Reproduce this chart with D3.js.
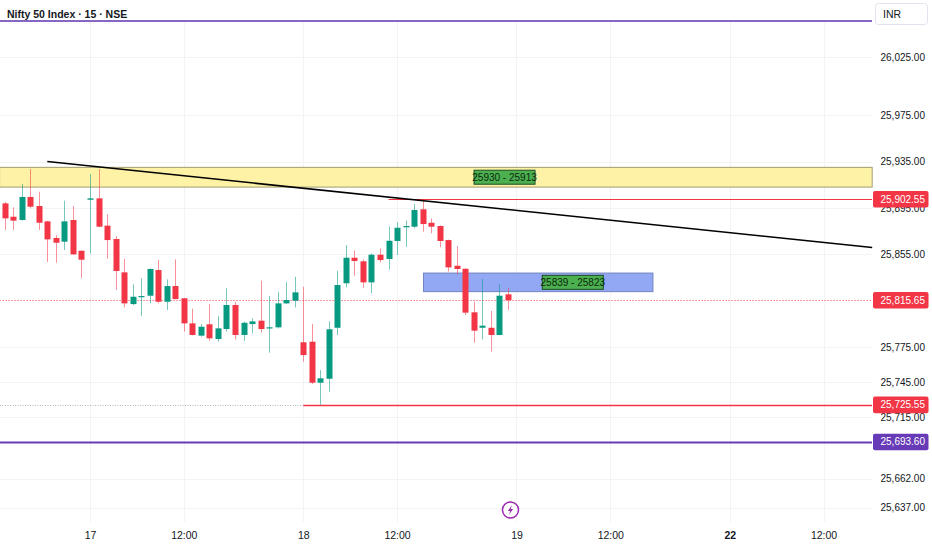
<!DOCTYPE html>
<html>
<head>
<meta charset="utf-8">
<script src="https://cdn.jsdelivr.net/npm/d3@7"></script>
<style>
  body { margin: 0; background: #ffffff; }
  svg { display: block; }
  text { font-family: "Liberation Sans", Arial, sans-serif; fill: #131722; }
</style>
</head>
<body>
<div id="chart"></div>
<script>
// 15 minute bars, first one is 10 bars before the open of the 17th
const firstBar = -10;
const open  = [25899.0, 25887.5, 25884.7, 25904.5, 25896.7, 25883.5, 25869.2, 25866.0, 25884.7, 25858.2,
               25902.1, 25903.3, 25879.8, 25868.3, 25839.6, 25812.3, 25818.6, 25819.5, 25841.6, 25814.3,
               25827.8, 25817.3, 25795.7, 25785.1, 25794.9, 25782.2, 25790.8, 25811.5, 25785.7, 25795.1,
               25798.0, 25791.4, 25792.3, 25812.9, 25815.2,
               25779.4, 25779.9, 25744.6, 25748.0, 25791.9, 25830.2, 25852.2, 25849.1, 25831.0, 25854.8,
               25851.1, 25866.6, 25878.4, 25878.9, 25893.9, 25882.3, 25879.5, 25867.4, 25845.3, 25842.7,
               25805.2, 25791.9, 25791.9, 25785.7, 25820.7];
const high  = [25900.2, 25895.6, 25915.7, 25928.6, 25909.0, 25884.0, 25871.7, 25901.3, 25896.7, 25858.5,
               25924.3, 25928.6, 25889.6, 25870.9, 25851.3, 25829.3, 25834.5, 25843.0, 25850.2, 25833.6,
               25850.8, 25817.6, 25808.3, 25795.1, 25812.3, 25802.0, 25825.9, 25814.3, 25797.1, 25800.0,
               25832.4, 25819.2, 25822.9, 25831.5, 25835.8,
               25827.2, 25795.1, 25755.5, 25797.4, 25841.0, 25863.1, 25858.2, 25850.8, 25856.0, 25860.3,
               25878.9, 25882.7, 25884.1, 25898.4, 25902.55, 25886.1, 25880.0, 25867.8, 25862.3, 25843.0,
               25814.3, 25833.9, 25806.3, 25829.3, 25826.4];
const low   = [25876.1, 25876.1, 25884.2, 25894.7, 25876.1, 25848.5, 25847.9, 25858.8, 25854.8, 25834.5,
               25856.0, 25878.4, 25851.3, 25824.4, 25809.5, 25811.5, 25802.0, 25812.9, 25812.9, 25807.2,
               25816.4, 25788.5, 25785.4, 25784.2, 25780.7, 25779.9, 25788.5, 25781.9, 25780.7, 25787.1,
               25787.6, 25770.4, 25791.4, 25812.3, 25809.5,
               25762.7, 25743.5, 25725.55, 25736.8, 25785.7, 25826.7, 25836.7, 25826.4, 25821.6, 25848.2,
               25842.2, 25854.5, 25861.7, 25877.5, 25874.6, 25873.2, 25861.2, 25840.2, 25837.9, 25802.9,
               25779.0, 25781.9, 25771.3, 25785.4, 25807.2];
const close = [25886.1, 25884.1, 25904.5, 25896.1, 25882.3, 25868.0, 25865.1, 25883.5, 25855.1, 25850.5,
               25903.3, 25878.9, 25867.4, 25840.8, 25812.9, 25818.6, 25819.2, 25842.5, 25814.3, 25827.8,
               25816.6, 25795.7, 25785.7, 25792.8, 25782.8, 25791.4, 25811.5, 25785.7, 25796.2, 25797.4,
               25790.8, 25792.3, 25812.9, 25815.8, 25822.4,
               25768.4, 25744.6, 25748.4, 25790.6, 25828.7, 25852.2, 25849.4, 25831.0, 25854.8, 25850.2,
               25866.8, 25878.0, 25879.5, 25893.3, 25881.2, 25878.9, 25866.6, 25843.9, 25842.5, 25804.9,
               25789.4, 25793.7, 25785.7, 25819.5, 25815.65];

const yTicks = [26025, 25975, 25935, 25895, 25855, 25775, 25745, 25715, 25662, 25637];
const xTickBars = [0, 11, 25, 36, 50, 61, 75, 86];
const xTickLabels = ["17", "12:00", "18", "12:00", "19", "12:00", "22", "12:00"];

// drawn zones (price band between two bars)
const zoneTop = [25930, 25839];
const zoneBottom = [25913, 25823];
const zoneFrom = [-10.6, 39.1];
const zoneTo = [91.7, 66];
const zoneText = ["25930 - 25913", "25839 - 25823"];

// trend line anchors
const trendBars = [-5, 91.7];
const trendPrices = [25935, 25861];

// horizontal levels
const levelPrice = [25902.55, 25725.55, 25693.60, 25815.65];
const levelFrom = [35, 25, -10.6, -10.6];
const levelText = ["25,902.55", "25,725.55", "25,693.60", "25,815.65"];

const width = 932, height = 550, plotRight = 872;
const green = "#089981", red = "#f23645", purple = "#673ab7";

const svg = d3.select("#chart").append("svg")
    .attr("width", width)
    .attr("height", height);

const x = d3.scaleLinear().domain([-10.55, 91.68]).range([0, plotRight]);
const y = d3.scaleLinear().domain([25637, 26025]).range([507.7, 57]);

// grid
const grid = svg.append("g");
grid.selectAll("line.h")
    .data(yTicks)
    .enter()
    .append("line")
    .attr("x1", 0).attr("x2", plotRight)
    .attr("y1", d => Math.round(y(d)) + 0.5)
    .attr("y2", d => Math.round(y(d)) + 0.5)
    .attr("stroke", "#f2f3f5");
grid.selectAll("line.v")
    .data(xTickBars)
    .enter()
    .append("line")
    .attr("x1", d => Math.round(x(d)) + 0.5)
    .attr("x2", d => Math.round(x(d)) + 0.5)
    .attr("y1", 22).attr("y2", 522)
    .attr("stroke", "#f2f3f5");

// zones
const zoneFill = ["#fdf2a6", "#93a8f4"];
const zoneStroke = ["#a39c74", "#7584bf"];
svg.append("g").selectAll("rect")
    .data(zoneTop)
    .enter()
    .append("rect")
    .attr("x", (d, i) => x(zoneFrom[i]))
    .attr("width", (d, i) => x(zoneTo[i]) - x(zoneFrom[i]))
    .attr("y", d => y(d))
    .attr("height", (d, i) => y(zoneBottom[i]) - y(d))
    .attr("fill", (d, i) => zoneFill[i])
    .attr("stroke", (d, i) => zoneStroke[i]);

// levels (lines)
const levelColor = [red, red, purple, red];
svg.append("g").selectAll("line")
    .data(levelPrice)
    .enter()
    .append("line")
    .attr("x1", (d, i) => x(levelFrom[i]))
    .attr("x2", plotRight)
    .attr("y1", d => Math.round(y(d)) + 0.5)
    .attr("y2", d => Math.round(y(d)) + 0.5)
    .attr("stroke", (d, i) => levelColor[i])
    .attr("stroke-width", (d, i) => i == 2 ? 2 : (i == 1 ? 1.5 : 1))
    .attr("stroke-dasharray", (d, i) => i == 3 ? "1,2" : null);

// dotted extension left of the low level
svg.append("line")
    .attr("x1", 0).attr("x2", x(levelFrom[1]))
    .attr("y1", Math.round(y(levelPrice[1])) + 0.5)
    .attr("y2", Math.round(y(levelPrice[1])) + 0.5)
    .attr("stroke", "#b2b5be")
    .attr("stroke-dasharray", "1,1.5");

// top purple line under the header
svg.append("line")
    .attr("x1", 0).attr("x2", plotRight)
    .attr("y1", 21).attr("y2", 21)
    .attr("stroke", "#5e35b1")
    .attr("stroke-width", 1.5);

// candles
const bars = d3.range(open.length);
const g_candles = svg.append("g");
g_candles.selectAll("line")
    .data(bars)
    .enter()
    .append("line")
    .attr("x1", i => Math.round(x(i + firstBar)) + 0.5)
    .attr("x2", i => Math.round(x(i + firstBar)) + 0.5)
    .attr("y1", i => y(high[i]))
    .attr("y2", i => y(low[i]))
    .attr("stroke", i => close[i] >= open[i] ? green : red)
    .attr("stroke-opacity", 0.55);
g_candles.selectAll("rect")
    .data(bars)
    .enter()
    .append("rect")
    .attr("x", i => Math.round(x(i + firstBar)) - 2.5)
    .attr("width", 6)
    .attr("y", i => y(Math.max(open[i], close[i])))
    .attr("height", i => Math.max(1.2, Math.abs(y(open[i]) - y(close[i]))))
    .attr("fill", i => close[i] >= open[i] ? green : red);

// trend line
svg.append("line")
    .attr("x1", x(trendBars[0])).attr("y1", y(trendPrices[0]))
    .attr("x2", x(trendBars[1])).attr("y2", y(trendPrices[1]))
    .attr("stroke", "#000000")
    .attr("stroke-width", 1.6);

// zone labels
const zoneLabelBar = [48.6, 56.6];
const zl = svg.append("g").selectAll("g")
    .data(zoneText)
    .enter()
    .append("g")
    .attr("transform", (d, i) => `translate(${x(zoneLabelBar[i])},${(y(zoneTop[i]) + y(zoneBottom[i])) / 2})`);
zl.append("rect")
    .attr("x", -30.5).attr("y", -7)
    .attr("width", 61).attr("height", 14)
    .attr("fill", "#4caf50")
    .attr("stroke", "#1e4d20");
zl.append("text")
    .attr("text-anchor", "middle")
    .attr("dy", "0.35em")
    .style("font-size", "10px")
    .style("fill", "#0b2a0c")
    .text(d => d);

// right price axis
const yAxis = d3.axisRight(y)
    .tickValues(yTicks)
    .tickSize(0)
    .tickPadding(0)
    .tickFormat(d3.format(",.2f"));
svg.append("g")
    .attr("transform", `translate(880.5,0)`)
    .call(yAxis)
    .call(g => g.select(".domain").remove())
    .selectAll("text")
    .style("font-family", "'Liberation Sans', Arial, sans-serif")
    .style("font-size", "10px")
    .style("fill", "#131722");

// price labels on the axis
const pl = svg.append("g").selectAll("g")
    .data(levelPrice)
    .enter()
    .append("g")
    .attr("transform", d => `translate(873,${y(d)})`);
pl.append("rect")
    .attr("x", 0).attr("y", -8.3)
    .attr("width", 55.5).attr("height", 16.6)
    .attr("rx", 2)
    .attr("fill", (d, i) => levelColor[i]);
pl.append("text")
    .attr("x", 7.5)
    .attr("dy", "0.35em")
    .style("font-size", "10px")
    .style("fill", "#ffffff")
    .text((d, i) => levelText[i]);

// currency box
svg.append("rect")
    .attr("x", 875.5).attr("y", 3.5)
    .attr("width", 52).attr("height", 21)
    .attr("rx", 3)
    .attr("fill", "#ffffff")
    .attr("stroke", "#e0e3eb");
svg.append("text")
    .attr("x", 883).attr("y", 18)
    .style("font-size", "10.5px")
    .text("INR");

// time axis
const xAxis = d3.axisBottom(x)
    .tickValues(xTickBars)
    .tickSize(0)
    .tickPadding(0)
    .tickFormat((d, i) => xTickLabels[i]);
svg.append("g")
    .attr("transform", `translate(0,532)`)
    .call(xAxis)
    .call(g => g.select(".domain").remove())
    .selectAll("text")
    .style("font-family", "'Liberation Sans', Arial, sans-serif")
    .style("font-size", "10.5px")
    .style("font-weight", (d, i) => xTickLabels[i] == "22" ? "bold" : "normal")
    .style("fill", "#131722");

// title
svg.append("text")
    .attr("x", 7).attr("y", 18)
    .style("font-size", "10.5px")
    .style("font-weight", "bold")
    .text("Nifty 50 Index · 15 · NSE");

// lightning marker on the time axis
const bolt = svg.append("g").attr("transform", `translate(${x(50) - 6},510)`);
bolt.append("circle")
    .attr("r", 8)
    .attr("fill", "#ffffff")
    .attr("stroke", "#9c27b0")
    .attr("stroke-width", 1.5);
bolt.append("path")
    .attr("d", "M1.6,-5 L-2.6,0.9 L-0.2,0.9 L-1.6,5 L2.6,-0.9 L0.2,-0.9 Z")
    .attr("fill", "#9c27b0");
</script>
</body>
</html>
